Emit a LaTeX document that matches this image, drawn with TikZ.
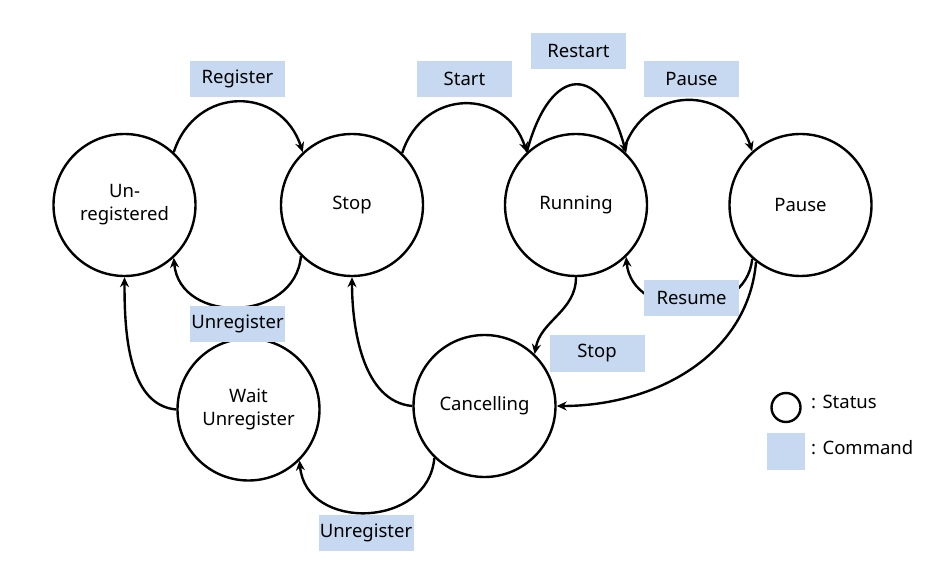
\documentclass[tikz,border=0pt]{standalone}
\usepackage{fontspec}
\setmainfont{Noto Sans}
\usepackage{xcolor}
\usepackage{tikz}
\usetikzlibrary{arrows.meta}
\definecolor{cmdblue}{HTML}{C6D9F1}

\begin{document}
\begin{tikzpicture}[x=1pt, y=1pt]
\tikzstyle{status}=[circle, draw, line width=2.4pt, minimum size=142pt, inner sep=0pt, align=center, font=\fontsize{18.5}{23}\selectfont]
\tikzstyle{command}=[fill=cmdblue, minimum width=95pt, minimum height=36pt, inner sep=0pt, font=\fontsize{18.5}{23}\selectfont]
\tikzstyle{trans}=[line width=2.4pt, -{Stealth[length=10pt, width=9pt]}]
\tikzstyle{legend}=[anchor=base west, inner sep=0pt, font=\fontsize{18.5}{23}\selectfont]
\useasboundingbox (0,0) rectangle (939,560);

\node[status] (unreg) at (124.5,355) {Un-\\registered};
\node[status] (stop) at (352,355) {Stop};
\node[status] (run) at (576,355) {Running};
\node[status] (pause) at (800.5,355) {Pause};
\node[status] (wait) at (248.5,150.5) {Wait\\Unregister};
\node[status] (cancel) at (484.5,154) {Cancelling};

\path[trans]
(unreg.47) edge[out=72, in=108, looseness=1.4] (stop.133)
(stop.225) edge[out=-95, in=-85, looseness=1.35] (unreg.313)
(stop.46)  edge[out=72, in=108, looseness=1.4] (run.133)
(run.133)  edge[out=75, in=105, looseness=2.4] (run.46)
(run.49)   edge[out=72, in=108, looseness=1.4] (pause.132)
(pause.228) edge[out=-95, in=-85, looseness=1.3] (run.-46)
(pause.232) edge[out=-95, in=0] (cancel.0)
(run.-90)  edge[out=-90, in=80] (cancel.46)
(cancel.180) edge[out=175, in=-90, looseness=0.9] (stop.-90)
(wait.180) edge[out=175, in=-90, looseness=0.9] (unreg.-90)
(cancel.226) edge[out=-95, in=-85, looseness=1.35] (wait.315);

\node[command] (register) at (237.5,481) {Register};
\node[command] (start) at (464.5,481) {Start};
\node[command] (restart) at (578.5,509) {Restart};
\node[command] (pausecmd) at (691.5,481) {Pause};
\node[command] (resume) at (691.5,262) {Resume};
\node[command] (stopcmd) at (597,206.5) {Stop};
\node[command] (unregtop) at (237.5,236) {Unregister};
\node[command] (unregbot) at (366,27.5) {Unregister};

\node[circle, draw, line width=2.4pt, minimum size=29pt, inner sep=0pt] (keystatus) at (786,152.5) {};
\node[legend] (keystatustext) at (811,152) {: Status};
\node[fill=cmdblue, minimum width=38pt, minimum height=37pt, inner sep=0pt] (keycommand) at (786,108.5) {};
\node[legend] (keycommandtext) at (811,106) {: Command};

\end{tikzpicture}
\end{document}
